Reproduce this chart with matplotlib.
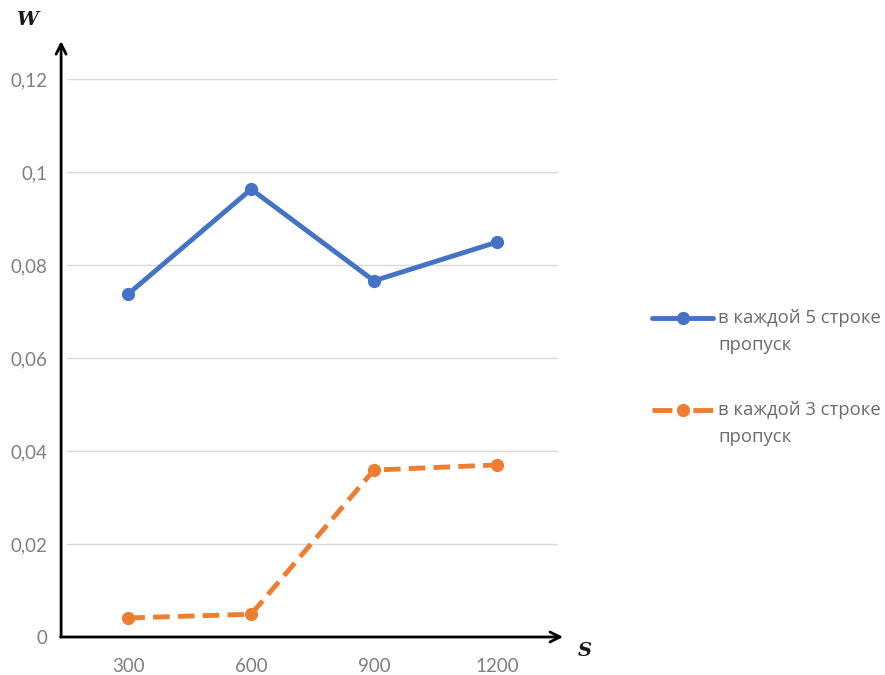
import numpy as np
import matplotlib
matplotlib.use('Agg')
import matplotlib.pyplot as plt
from matplotlib.lines import Line2D

# данные
s_labels = ['300', '600', '900', '1200']
w_5 = [0.0738, 0.0963, 0.0766, 0.0849]   # в каждой 5 строке пропуск
w_3 = [0.0041, 0.0049, 0.0359, 0.0370]   # в каждой 3 строке пропуск
y_ticks = [0, 0.02, 0.04, 0.06, 0.08, 0.1, 0.12]
y_tick_labels = ['0', '0,02', '0,04', '0,06', '0,08', '0,1', '0,12']

plt.rcParams['font.family'] = ['Lato', 'DejaVu Sans']

fig = plt.figure(figsize=(8.85, 6.75), dpi=100)
ax = fig.add_axes([0.0757, 0.0563, 0.555, 0.8267])

x = np.arange(len(s_labels))
l1, = ax.plot(x, w_5, color='#4472C4', lw=3.5, marker='o', ms=8.5,
              solid_capstyle='round', label='в каждой 5 строке\nпропуск')
l2, = ax.plot(x, w_3, color='#ED7D31', lw=3.5, marker='o', ms=8.5,
              ls=(0, (3.4, 1.7)), label='в каждой 3 строке\nпропуск')

ax.set_xlim(-0.5, 3.5)
ax.set_ylim(0, 0.12)
ax.set_xticks(x)
ax.set_xticklabels(s_labels)
ax.set_yticks(y_ticks)
ax.set_yticklabels(y_tick_labels)
ax.tick_params(length=0, labelsize=13.5, colors='#7f7f7f', pad=15)
ax.tick_params(axis='y', pad=14)
ax.grid(axis='y', color='#d9d9d9', lw=1)
ax.set_axisbelow(True)
for sp in ax.spines.values():
    sp.set_visible(False)

# оси со стрелками
arrow = dict(arrowstyle='->', color='black', lw=2, mutation_scale=18, shrinkA=0, shrinkB=0)
ax.annotate('', xy=(-0.012, 1.068), xytext=(-0.012, 0), xycoords='axes fraction',
            arrowprops=arrow, annotation_clip=False)
ax.annotate('', xy=(1.01, 0), xytext=(-0.013, 0), xycoords='axes fraction',
            arrowprops=arrow, annotation_clip=False)

fig.text(0.031, 0.97, 'W', family='DejaVu Serif', style='italic', weight='bold',
         fontsize=14, ha='center', va='center', color='#1a1a1a')
fig.text(0.661, 0.036, 'S', family='DejaVu Serif', style='italic', weight='bold',
         fontsize=14, ha='center', va='center', color='#1a1a1a')

# легенда справа: маркер на уровне первой строки подписи
W, H = 885, 675
for line, y0, ls in [(l1, 318, '-'), (l2, 410, (0, (4.1, 4.3)))]:
    yf = 1 - y0 / H
    fig.add_artist(Line2D([652 / W, 713 / W], [yf, yf], transform=fig.transFigure,
                          color=line.get_color(), lw=line.get_linewidth(),
                          ls=ls, solid_capstyle='round'))
    fig.add_artist(Line2D([683 / W], [yf], transform=fig.transFigure, marker='o',
                          ms=8.5, color=line.get_color()))
    for k, txt in enumerate(line.get_label().split('\n')):
        fig.text(718 / W, 1 - (y0 + 27 * k) / H, txt, fontsize=13.3, color='#6b6b6b',
                 ha='left', va='center', family=['Open Sans', 'DejaVu Sans'])

plt.savefig('out.png', dpi=100)
